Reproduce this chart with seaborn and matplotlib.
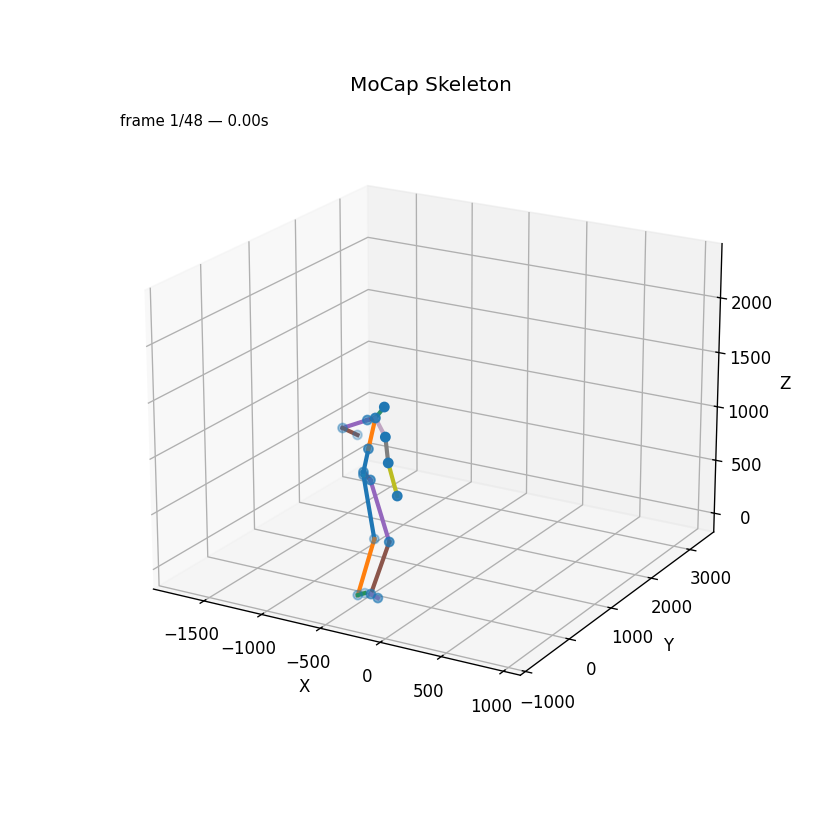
import seaborn as sns
import matplotlib
matplotlib.use("Agg")
import matplotlib.pyplot as plt

# joint positions for frame 1
# root, lhip, lknee, lfoot, ltoe, rhip, rknee, rfoot, rtoe,
# spine, neck, head, lshoulder, lelbow, lhand, rshoulder, relbow, rhand
xs = [-429, -469, -381, -406, -406, -332, -139, -237, -198, -386, -326, -232, -452, -701, -655, -186, -144, -71]
ys = [-350, -250, -250, -550, -400, -450, -550, -700, -650, -350, -350, -400, -200, -100, 100, -500, -550, -550]
zs = [1033, 973, 420, -12, -35, 1009, 529, 80, 40, 1246, 1531, 1658, 1451, 1304, 1204, 1430, 1225, 951]

bones = [(1, 2), (2, 3), (3, 4), (0, 5), (5, 6), (6, 7), (7, 8), (0, 1), (0, 1), (0, 1),
         (0, 9), (9, 10), (10, 11), (10, 12), (12, 13), (13, 14), (10, 15), (15, 16), (16, 17)]

y_ticks = [-1000, 0, 1000, 2000, 3000]

pal = sns.color_palette('tab10')

fig = plt.figure(figsize=(7, 7), dpi=120)
ax = fig.add_subplot(111, projection='3d')
ax.view_init(elev=20, azim=-60)

# one line per bone, colours run through the cycle
for i, (a, b) in enumerate(bones):
    col = pal[i % 10]
    if i == 16:
        col = '#c0a6c2'
    if i == 12:
        col = '#2f8f6f'
    ax.plot([xs[a], xs[b]], [ys[a], ys[b]], [zs[a], zs[b]], color=col, lw=2.5)

ax.scatter(xs, ys, zs, s=30)

ax.set_xlim(-1945, 1135)
ax.set_ylim(-1113, 3637)
ax.set_zlim(-178, 2490)
ax.set_yticks(y_ticks)
ax.set_xlabel('X')
ax.set_ylabel('Y')
ax.set_zlabel('Z')
ax.set_title('MoCap Skeleton')
ax.text2D(0.02, 0.98, 'frame 1/48 — 0.00s', transform=ax.transAxes, fontsize=9, va='top')

fig.savefig('out.png', dpi=120)
